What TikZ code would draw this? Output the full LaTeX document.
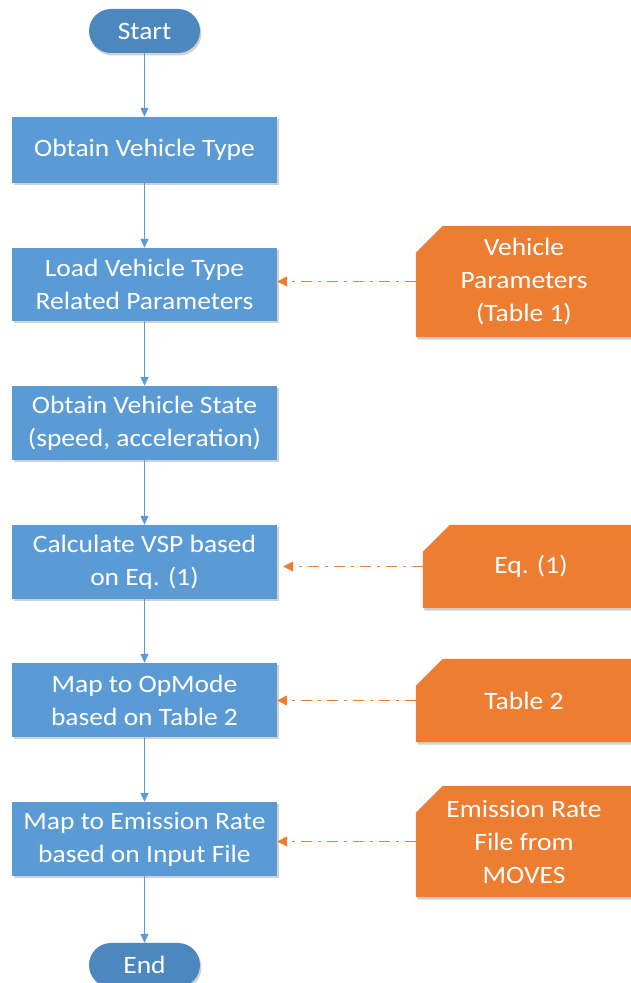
\documentclass[tikz,border=0pt]{standalone}
\usepackage{fontspec}
\setmainfont{Carlito}[FakeStretch=1.1]
\usetikzlibrary{arrows.meta,shadows,backgrounds}
\definecolor{boxblue}{RGB}{91,155,213}
\definecolor{termblue}{RGB}{76,135,192}
\definecolor{orng}{RGB}{237,125,49}
\begin{document}
\begin{tikzpicture}[x=1pt,y=1pt,
  font=\fontsize{25}{33}\selectfont,
  shadowed/.style={drop shadow={shadow xshift=1.5pt,shadow yshift=-2.5pt,opacity=0.18,fill=black}},
  procbox/.style={rectangle,fill=boxblue,text=white,minimum width=265pt,align=center,inner sep=0pt,shadowed},
  termbox/.style={rectangle,rounded corners=22pt,fill=termblue,text=white,minimum width=111pt,minimum height=44pt,inner sep=0pt,shadowed},
  databox/.style={rectangle,text=white,minimum width=216pt,align=center,inner sep=0pt},
  datafill/.style={fill=orng,shadowed},
  flow/.style={draw=boxblue,line width=1pt,-{Triangle[width=8pt,length=9pt]}},
  feed/.style={draw=orng,line width=1.4pt,dash pattern=on 11pt off 6pt on 3pt off 6pt,-{Triangle[width=10pt,length=10pt]}}]
\useasboundingbox (0,0) rectangle (631,983);

\node[termbox] (start) at (144.5,952) {Start};
\node[procbox,minimum height=66pt] (type) at (144.5,833) {Obtain Vehicle Type};
\node[procbox,minimum height=73pt] (load) at (144.5,698.5) {Load Vehicle Type\\Related Parameters};
\node[procbox,minimum height=74pt] (state) at (144.5,560) {Obtain Vehicle State\\(speed, acceleration)};
\node[procbox,minimum height=74pt] (calc) at (144.5,421) {Calculate VSP based\\on Eq. (1)};
\node[procbox,minimum height=74pt] (opmode) at (144.5,283) {Map to OpMode\\based on Table 2};
\node[procbox,minimum height=74pt] (emis) at (144.5,144) {Map to Emission Rate\\based on Input File};
\node[termbox] (end) at (144.5,18) {End};

\node[databox,minimum height=111pt] (vp) at (524,701.5) {Vehicle\\Parameters\\(Table 1)};
\node[databox,minimum height=83pt] (eq) at (531,416.5) {Eq. (1)};
\node[databox,minimum height=83pt] (t2) at (524,282.5) {Table 2};
\node[databox,minimum height=111pt] (er) at (524,141.5) {Emission Rate\\File from\\MOVES};

\begin{pgfonlayer}{background}
\foreach \n in {vp,eq,t2,er}{
  \fill[datafill] ([yshift=-27pt]\n.north west) -- ([xshift=27pt]\n.north west) -- (\n.north east) -- (\n.south east) -- (\n.south west) -- cycle;
}
\end{pgfonlayer}

\draw[flow] (start) -- (type);
\draw[flow] (type) -- (load);
\draw[flow] (load) -- (state);
\draw[flow] (state) -- (calc);
\draw[flow] (calc) -- (opmode);
\draw[flow] (opmode) -- (emis);
\draw[flow] (emis) -- (end);

\draw[feed] (vp.west) -- (vp.west -| load.east);
\draw[feed,shorten >=6pt] (eq.west) -- (eq.west -| calc.east);
\draw[feed] (t2.west) -- (t2.west -| opmode.east);
\draw[feed] (er.west) -- (er.west -| emis.east);
\end{tikzpicture}
\end{document}
